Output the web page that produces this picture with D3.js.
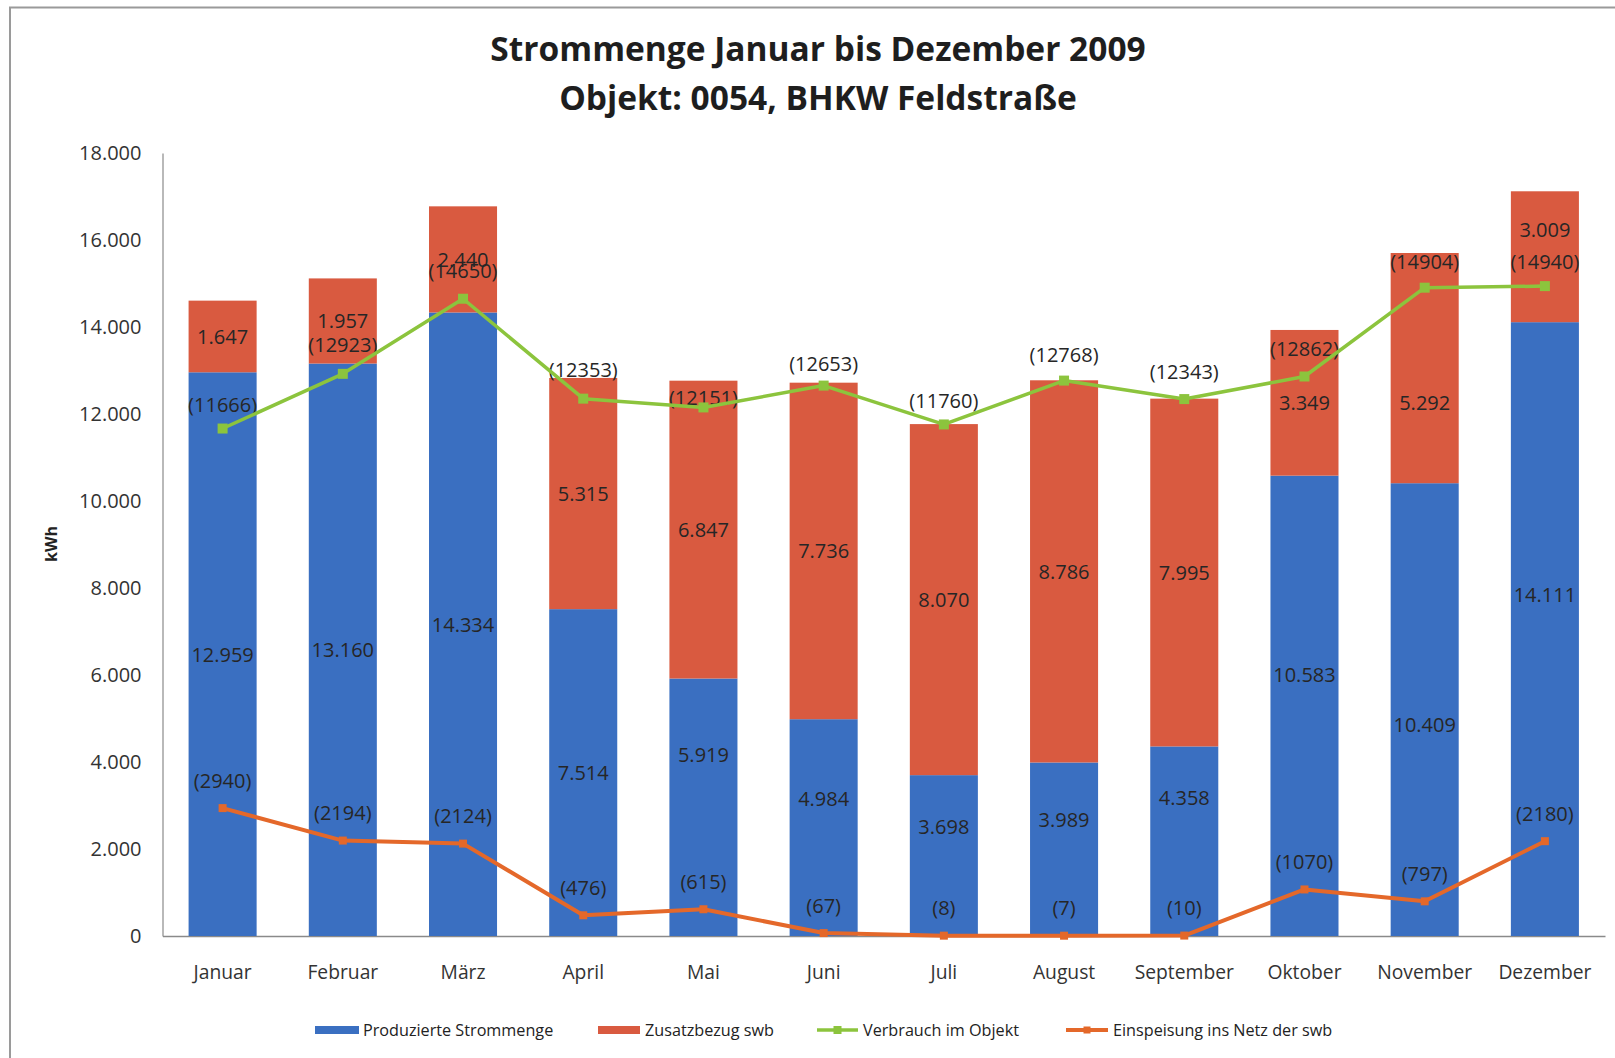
<!DOCTYPE html>
<html><head><meta charset="utf-8">
<script src="https://cdn.jsdelivr.net/npm/d3@7"></script>
<style>
html,body{margin:0;padding:0;background:#fff;}
svg{display:block;font-family:"Open Sans",sans-serif;}
</style></head>
<body>
<svg id="chart" width="1615" height="1058"></svg>
<script>
const months = ["Januar","Februar","März","April","Mai","Juni","Juli","August","September","Oktober","November","Dezember"];
const produziert = [12959,13160,14334,7514,5919,4984,3698,3989,4358,10583,10409,14111];
const zusatzbezug = [1647,1957,2440,5315,6847,7736,8070,8786,7995,3349,5292,3009];
const verbrauch = [11666,12923,14650,12353,12151,12653,11760,12768,12343,12862,14904,14940];
const einspeisung = [2940,2194,2124,476,615,67,8,7,10,1070,797,2180];
const yTicks = [0,2000,4000,6000,8000,10000,12000,14000,16000,18000];
const seriesNames = ["Produzierte Strommenge","Zusatzbezug swb","Verbrauch im Objekt","Einspeisung ins Netz der swb"];
const titleLines = ["Strommenge Januar bis Dezember 2009","Objekt: 0054, BHKW Feldstraße"];

const C = {blue:"#3a6fc1", red:"#d95a40", green:"#8cc43d", orange:"#e4682a", text:"#262626", axis:"#8a8a8a"};
// manual label nudges (px), as in the original chart
const nudgeBlue = [0,0,0,0,-53,-29,-29,-30,-44,-31,15,-35];
const nudgeRed  = [0,0,0,0,0,0,0,0,0,0,34,-27];
const nudgeGreen= [-24,-29,-28,-29,-10,-22,-24,-26,-28,-28,-26,-25];
const nudgeOrange = -28;

const svg = d3.select("#chart");
const L = 162.5, R = 1605, T = 153, B = 936;

// outer frame
svg.append("path").attr("d","M10,1058 L10,7.5 L1615,7.5").attr("fill","none").attr("stroke","#9a9a9a").attr("stroke-width",2);

// title
svg.append("text").attr("x",818).attr("y",61).attr("text-anchor","middle")
  .attr("font-weight",700).attr("font-size",33.5).attr("fill","#1e1e1e").text(titleLines[0]);
svg.append("text").attr("x",818).attr("y",110).attr("text-anchor","middle")
  .attr("font-weight",700).attr("font-size",33.5).attr("fill","#1e1e1e").text(titleLines[1]);

const x = d3.scaleBand().domain(months).range([L,R]).paddingInner(0.434).paddingOuter(0.217);
const y = d3.scaleLinear().domain([0,18000]).range([B,T]);

const fmt = d3.formatLocale({decimal:",",thousands:".",grouping:[3],currency:["","€"]}).format(",d");

// y axis
const yAxis = d3.axisLeft(y).tickValues(yTicks).tickFormat(d=>fmt(d)).tickSize(0).tickPadding(21);
const ga = svg.append("g").attr("transform",`translate(${L},0)`).call(yAxis);
ga.select(".domain").attr("stroke",C.axis).attr("stroke-width",1.2);
ga.selectAll("text").attr("font-size",20).attr("fill","#333").attr("font-family","Open Sans");

// x axis
const xAxis = d3.axisBottom(x).tickSize(0).tickPadding(29);
const gx = svg.append("g").attr("transform",`translate(0,${B})`).call(xAxis);
gx.select(".domain").attr("stroke",C.axis).attr("stroke-width",1.5);
gx.selectAll("text").attr("font-size",19.3).attr("fill","#333").attr("font-family","Open Sans");

// kWh label
svg.append("text").attr("transform","translate(57,544) rotate(-90)").attr("text-anchor","middle")
  .attr("font-weight",700).attr("font-size",16).attr("fill","#222").text("kWh");

// stacked bars
const data = months.map((m,i)=>({m, p:produziert[i], z:zusatzbezug[i], i}));
svg.append("g").selectAll("rect").data(data).join("rect")
  .attr("x",d=>x(d.m)).attr("width",x.bandwidth())
  .attr("y",d=>y(d.p)).attr("height",d=>y(0)-y(d.p)).attr("fill",C.blue);
svg.append("g").selectAll("rect").data(data).join("rect")
  .attr("x",d=>x(d.m)).attr("width",x.bandwidth())
  .attr("y",d=>y(d.p+d.z)).attr("height",d=>y(d.p)-y(d.p+d.z)).attr("fill",C.red);

const cx = m => x(m)+x.bandwidth()/2;
const lab = svg.append("g").attr("font-size",20).attr("fill",C.text).attr("text-anchor","middle").attr("dominant-baseline","central");
lab.selectAll("text.b").data(data).join("text").attr("class","b")
  .attr("x",d=>cx(d.m)).attr("y",d=>y(d.p/2)+nudgeBlue[d.i]).text(d=>fmt(d.p));
lab.selectAll("text.r").data(data).join("text").attr("class","r")
  .attr("x",d=>cx(d.m)).attr("y",d=>y(d.p+d.z/2)+nudgeRed[d.i]).text(d=>fmt(d.z));

// lines
function drawLine(vals,color,width,ms,nudge){
  const pts = months.map((m,i)=>[cx(m),y(vals[i]),vals[i],i]);
  svg.append("path").datum(pts).attr("fill","none").attr("stroke",color).attr("stroke-width",width)
    .attr("stroke-linejoin","round").attr("d",d3.line().x(d=>d[0]).y(d=>d[1]));
  svg.append("g").selectAll("rect").data(pts).join("rect")
    .attr("x",d=>d[0]-ms/2).attr("y",d=>d[1]-ms/2).attr("width",ms).attr("height",ms).attr("fill",color);
  lab.selectAll(null).data(pts).join("text")
    .attr("x",d=>d[0]).attr("y",d=>d[1]+(Array.isArray(nudge)?nudge[d[3]]:nudge)).text(d=>`(${d[2]})`);
}
drawLine(verbrauch,C.green,3.5,10,nudgeGreen);
drawLine(einspeisung,C.orange,4,8,nudgeOrange);

// legend
const lg = svg.append("g").attr("font-size",16.2).attr("fill","#222");
const ly = 1030;
lg.append("rect").attr("x",315).attr("y",ly-4).attr("width",44).attr("height",8).attr("fill",C.blue);
lg.append("text").attr("x",363).attr("y",ly).attr("dominant-baseline","central").text(seriesNames[0]);
lg.append("rect").attr("x",598).attr("y",ly-4).attr("width",42).attr("height",8).attr("fill",C.red);
lg.append("text").attr("x",645).attr("y",ly).attr("dominant-baseline","central").text(seriesNames[1]);
lg.append("line").attr("x1",817).attr("x2",858).attr("y1",ly).attr("y2",ly).attr("stroke",C.green).attr("stroke-width",3.5);
lg.append("rect").attr("x",833.5).attr("y",ly-4).attr("width",8).attr("height",8).attr("fill",C.green);
lg.append("text").attr("x",863).attr("y",ly).attr("dominant-baseline","central").text(seriesNames[2]);
lg.append("line").attr("x1",1066).attr("x2",1108).attr("y1",ly).attr("y2",ly).attr("stroke",C.orange).attr("stroke-width",4);
lg.append("rect").attr("x",1083.5).attr("y",ly-3.5).attr("width",7).attr("height",7).attr("fill",C.orange);
lg.append("text").attr("x",1113).attr("y",ly).attr("dominant-baseline","central").text(seriesNames[3]);
</script>
</body></html>
